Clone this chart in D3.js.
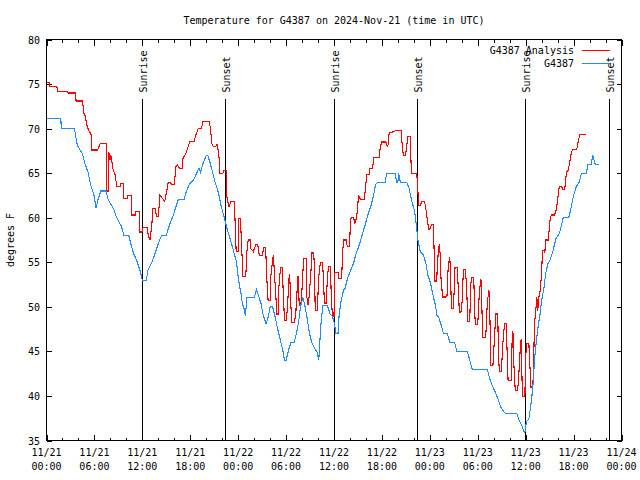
<!DOCTYPE html>
<html><head><meta charset="utf-8">
<script src="https://cdn.jsdelivr.net/npm/d3@7/dist/d3.min.js"></script>
<style>
html,body{margin:0;padding:0;background:#fff;}
svg{display:block;}
text{font-family:"DejaVu Sans Mono",monospace;font-size:10px;fill:#000;}
</style></head>
<body>
<script>
// ---------- data (hours after 2024-11-21 00:00 UTC, degrees F) ----------
const chartTitle = "Temperature for G4387 on 2024-Nov-21 (time in UTC)";
const yAxisLabel = "degrees F";
const seriesNames = ["G4387 Analysis", "G4387"];
const seriesColors = ["#ff0000", "#1e8cff"];
const yTickValues = [35, 40, 45, 50, 55, 60, 65, 70, 75, 80];

const sunEventLabels = ["Sunrise", "Sunset", "Sunrise", "Sunset", "Sunrise", "Sunset"];
const sunEventHours = [12.0, 22.38, 36.03, 46.42, 59.95, 70.47];

const analysisSeries = [
[0,75.2],[0.35,75.2],[0.4,74.7],[1.3,74.7],[1.4,74.2],[2.6,74.2],[2.7,74.0],[3.65,74.0],[3.7,73.1],[4.5,73.1],
[4.7,71.7],[4.85,71.4],[5.1,70.2],[5.3,69.8],[5.6,69.3],[5.7,67.6],[6.4,67.6],[6.7,68.3],[7.45,68.3],[7.5,68.3],
[7.55,63.0],[7.75,63.0],[7.8,67.4],[7.95,66.5],[8.05,67.0],[8.36,65.3],[8.6,64.8],[8.8,63.5],[9.2,63.5],[9.3,63.8],
[9.6,63.8],[9.7,62.2],[10.1,62.2],[10.2,62.5],[10.6,62.5],[10.7,60.3],[11.1,60.3],[11.15,60.7],[11.6,60.7],[11.7,58.4],
[11.95,58.4],[12.0,58.7],[12.1,58.9],[12.6,58.9],[12.75,58.0],[12.95,57.5],[13.2,59.3],[13.3,61.0],[13.6,61.0],[13.8,60.1],
[14.0,60.1],[14.2,62.5],[14.5,62.2],[14.8,61.8],[14.95,62.5],[15.25,64.0],[15.5,64.0],[15.7,63.7],[16.0,63.7],[16.2,65.7],
[16.4,65.9],[16.7,65.5],[17.0,65.5],[17.1,66.7],[17.5,67.3],[17.95,68.6],[18.5,68.6],[18.7,69.3],[19.0,70.0],[19.4,70.0],
[19.6,70.8],[20.4,70.8],[20.55,69.8],[20.7,68.3],[20.9,68.0],[21.2,68.0],[21.35,68.3],[21.5,67.5],[21.6,66.8],[21.7,65.0],
[22.1,65.0],[22.2,65.3],[22.5,65.3],[22.6,62.2],[22.85,61.2],[23.1,61.8],[23.5,61.8],[23.6,59.9],[23.75,56.2],[24.0,56.2],
[24.1,59.9],[24.25,59.9],[24.35,58.5],[24.6,53.4],[24.95,53.4],[25.1,56.3],[25.25,57.5],[25.5,57.5],[25.6,56.5],[25.9,56.2],
[26.1,56.7],[26.2,57.0],[26.45,57.0],[26.6,56.0],[26.7,55.8],[27.05,55.8],[27.2,56.7],[27.45,56.7],[27.55,53.7],[27.65,52.2],
[27.75,50.7],[28.0,50.7],[28.1,53.5],[28.3,55.2],[28.4,55.8],[28.55,53.7],[28.75,50.7],[28.8,49.2],[29.0,49.2],[29.1,52.2],
[29.3,54.4],[29.5,54.4],[29.6,52.6],[29.8,48.5],[30.05,48.5],[30.2,50.4],[30.4,53.7],[30.5,52.6],[30.6,50.2],[30.7,48.2],
[31.0,48.2],[31.2,49.0],[31.4,52.2],[31.5,53.4],[31.65,50.2],[31.85,50.2],[31.95,51.3],[32.2,55.4],[32.5,55.4],[32.6,51.1],
[32.75,50.2],[32.9,51.3],[33.15,54.5],[33.25,56.1],[33.45,56.1],[33.55,54.5],[33.65,49.6],[33.9,49.6],[34.1,53.4],[34.3,55.0],
[34.55,55.0],[34.65,53.7],[34.8,50.4],[35.0,50.4],[35.2,53.5],[35.3,54.5],[35.55,54.5],[35.65,51.5],[35.8,48.9],[36.0,48.9],
[36.1,53.9],[36.5,53.9],[36.6,53.2],[36.95,53.2],[37.1,56.3],[37.2,57.5],[37.55,57.5],[37.65,56.8],[37.95,56.8],[38.05,59.3],
[38.15,60.0],[38.45,60.0],[38.6,59.4],[38.75,59.8],[38.95,60.8],[39.05,62.5],[39.35,62.0],[39.8,62.0],[40.1,64.8],[40.4,64.8],
[40.5,65.5],[40.85,65.5],[40.95,66.8],[41.65,66.8],[41.8,68.0],[42.0,68.5],[42.5,68.5],[42.65,68.0],[42.8,68.2],[42.9,69.5],
[43.3,69.6],[43.8,69.8],[44.4,69.8],[44.6,67.5],[44.7,67.0],[44.95,67.0],[45.05,67.6],[45.25,69.1],[45.55,69.1],[45.65,66.1],
[45.75,65.0],[46.35,65.0],[46.45,64.0],[46.6,61.4],[46.85,61.4],[46.95,61.8],[47.35,61.8],[47.55,60.7],[47.7,59.6],[47.9,58.6],
[48.1,58.9],[48.2,59.2],[48.4,59.2],[48.5,57.5],[48.6,54.3],[48.65,52.8],[48.85,52.8],[48.95,54.7],[49.05,56.0],[49.2,57.1],
[49.3,55.8],[49.4,53.2],[49.6,51.1],[49.95,51.1],[50.15,51.3],[50.3,54.5],[50.5,55.6],[50.6,53.5],[50.7,49.8],[50.95,49.8],
[51.05,51.9],[51.15,54.4],[51.4,54.4],[51.5,53.2],[51.7,49.4],[51.9,49.4],[52.05,50.7],[52.2,54.2],[52.45,54.2],[52.6,52.3],
[52.7,49.8],[52.75,48.4],[53.0,48.4],[53.1,52.0],[53.2,53.3],[53.5,53.3],[53.6,49.8],[53.7,48.0],[54.0,48.0],[54.2,51.7],
[54.4,53.1],[54.5,50.8],[54.6,46.6],[55.0,46.6],[55.2,50.5],[55.4,51.9],[55.5,50.0],[55.6,45.1],[55.65,43.4],[55.9,43.4],
[56.1,46.6],[56.25,49.2],[56.5,49.2],[56.6,44.7],[56.7,42.7],[56.95,42.7],[57.15,46.0],[57.35,48.1],[57.55,48.1],[57.7,44.5],
[57.8,41.7],[58.2,41.7],[58.3,46.0],[58.4,47.3],[58.5,44.0],[58.7,40.6],[59.0,40.6],[59.2,43.2],[59.35,45.9],[59.45,46.4],
[59.55,41.7],[59.65,39.9],[59.9,39.9],[60.0,44.4],[60.15,45.9],[60.4,45.9],[60.5,44.0],[60.65,41.0],[60.9,41.0],[61.0,44.0],
[61.1,47.9],[61.3,50.0],[61.4,51.1],[61.5,49.5],[61.65,51.1],[61.8,51.7],[62.0,53.7],[62.1,56.3],[62.3,56.3],[62.4,56.0],
[62.5,57.5],[62.85,57.5],[63.0,59.5],[63.2,60.3],[63.6,60.3],[63.8,60.8],[63.95,61.6],[64.2,63.5],[64.5,63.5],[64.65,63.2],
[64.9,63.2],[65.1,65.1],[65.3,65.3],[65.5,66.1],[65.7,67.2],[65.9,67.7],[66.4,67.7],[66.6,68.7],[66.8,69.3],[67.5,69.3]
];

const stationSeries = [
[0,71.1],[1.8,71.1],[1.85,70.0],[3.5,70.0],[3.86,68.1],[4.5,67.2],[4.8,66.1],[5.2,65.1],[5.5,63.8],[5.95,62.5],
[6.2,61.1],[6.5,62.2],[6.8,63.0],[7.45,63.0],[7.7,62.1],[8.0,61.6],[8.4,61.0],[8.7,60.2],[9.1,59.5],[9.4,59.0],
[9.7,58.0],[10.3,58.0],[10.6,56.9],[10.9,56.0],[11.3,55.2],[11.7,54.1],[12.0,53.0],[12.5,53.0],[12.7,54.1],[13.2,55.0],
[13.6,56.0],[14.0,57.1],[14.4,58.0],[15.0,58.0],[15.4,59.2],[15.8,60.1],[16.2,61.2],[16.5,62.0],[17.2,62.0],[17.5,62.9],
[17.9,63.8],[18.4,64.2],[18.8,65.0],[19.1,65.6],[19.3,65.1],[19.6,66.1],[20.0,67.0],[20.2,67.0],[20.5,66.1],[20.8,65.1],
[21.1,64.0],[21.5,62.9],[21.9,61.2],[22.3,59.9],[22.6,58.8],[23.1,57.3],[23.5,56.0],[23.8,55.0],[24.05,53.0],[24.35,51.5],
[24.55,50.2],[24.7,50.0],[24.9,49.0],[25.1,51.0],[26.0,51.0],[26.3,51.9],[26.5,51.4],[26.85,50.4],[27.1,49.2],[27.5,48.1],
[27.8,49.0],[28.0,50.0],[28.3,50.0],[28.6,49.0],[28.9,47.7],[29.3,46.2],[29.6,45.1],[29.8,44.0],[30.0,44.0],[30.3,45.1],
[30.6,46.0],[31.0,46.0],[31.3,47.0],[31.6,48.5],[31.8,50.0],[32.1,51.0],[32.3,50.4],[32.6,48.9],[32.9,47.2],[33.2,46.0],
[33.6,45.3],[33.9,44.9],[34.1,44.0],[34.15,45.0],[34.4,48.5],[34.6,50.1],[35.2,50.1],[35.5,49.2],[35.8,48.9],[36.1,48.0],
[36.2,47.0],[36.5,47.0],[36.65,49.2],[36.9,50.7],[37.2,51.9],[37.4,52.1],[37.7,53.2],[38.0,53.9],[38.45,54.9],[38.7,55.8],
[39.15,56.9],[39.5,58.0],[39.9,59.2],[40.3,60.5],[40.65,61.4],[40.95,62.5],[41.2,63.7],[41.45,64.0],[42.4,64.0],[42.6,65.0],
[43.65,65.0],[43.85,64.0],[44.0,64.0],[44.1,65.0],[44.3,64.0],[45.1,64.0],[45.4,63.3],[45.7,62.0],[46.1,60.7],[46.3,59.3],
[46.5,57.5],[46.8,56.2],[47.2,55.8],[47.5,54.9],[47.75,53.6],[48.1,52.6],[48.4,51.3],[48.7,50.2],[48.9,49.0],[49.1,48.9],
[49.5,47.7],[49.7,47.0],[50.2,47.0],[50.5,46.0],[51.1,46.0],[51.4,45.0],[52.7,45.0],[53.0,44.0],[53.3,43.0],[55.2,43.0],
[55.5,41.9],[55.9,41.0],[56.3,40.2],[56.6,39.5],[56.9,38.7],[57.3,38.2],[57.5,38.0],[58.9,38.0],[59.2,37.2],[59.5,36.7],
[59.8,36.0],[59.9,35.9],[60.1,37.1],[60.4,37.4],[60.7,39.3],[60.9,41.0],[61.1,44.0],[61.35,46.2],[61.55,47.7],[61.8,49.2],
[62.0,50.7],[62.3,52.2],[62.5,53.7],[62.8,54.9],[63.0,55.1],[63.4,56.2],[63.8,57.7],[64.2,58.2],[64.5,59.2],[64.7,60.0],
[65.4,60.0],[65.7,61.2],[66.0,62.5],[66.35,63.5],[66.7,64.0],[67.0,65.0],[67.6,65.0],[67.8,66.0],[68.2,66.0],[68.4,67.0],
[68.7,66.0],[69.2,66.0]
];

// ---------- drawing ----------
const W = 640, H = 480;
const START = Date.UTC(2024, 10, 21, 0, 0);
const END = Date.UTC(2024, 10, 24, 0, 0);
const toDate = h => new Date(START + h * 3600000);

const svg = d3.select("body").append("svg").attr("width", W).attr("height", H);

const pLeft = 46.5, pRight = 621.5, pTop = 39.5, pBottom = 440.5;
const x = d3.scaleUtc().domain([new Date(START), new Date(END)]).range([pLeft, pRight]);
const y = d3.scaleLinear().domain([35, 80]).range([pBottom, pTop]);

// title & axis label
svg.append("text").attr("x", 334).attr("y", 24).attr("text-anchor", "middle").text(chartTitle);
svg.append("text").attr("transform", "translate(14,240) rotate(-90)").attr("text-anchor", "middle").text(yAxisLabel);

const tickStyle = g => g.selectAll("line").attr("stroke", "#000").attr("shape-rendering", "crispEdges");

// y ticks left and right
const yMajor = 5;
const yLeftG = svg.append("g").attr("transform", `translate(${pLeft},0)`)
  .call(d3.axisRight(y).tickValues(yTickValues).tickSize(yMajor).tickFormat(""));
yLeftG.select(".domain").remove(); tickStyle(yLeftG);
const yRightG = svg.append("g").attr("transform", `translate(${pRight},0)`)
  .call(d3.axisLeft(y).tickValues(yTickValues).tickSize(yMajor).tickFormat(""));
yRightG.select(".domain").remove(); tickStyle(yRightG);
svg.append("g").selectAll("text").data(yTickValues).join("text")
  .attr("x", 40).attr("y", d => y(d) + 4).attr("text-anchor", "end").text(d => d);

// x ticks: minor every 2h, major every 6h, bottom & top
const majorTicks = d3.utcHour.every(6).range(new Date(START), new Date(END + 1));
const minorTicks = d3.utcHour.every(2).range(new Date(START), new Date(END + 1));
[[pBottom, -1], [pTop, 1]].forEach(([yy, dir]) => {
  const gMin = svg.append("g").attr("transform", `translate(0,${yy})`)
    .call((dir < 0 ? d3.axisTop(x) : d3.axisBottom(x)).tickValues(minorTicks).tickSize(3).tickFormat(""));
  gMin.select(".domain").remove(); tickStyle(gMin);
  const gMaj = svg.append("g").attr("transform", `translate(0,${yy})`)
    .call((dir < 0 ? d3.axisTop(x) : d3.axisBottom(x)).tickValues(majorTicks).tickSize(6).tickFormat(""));
  gMaj.select(".domain").remove(); tickStyle(gMaj);
});
const fmtDay = d3.utcFormat("%m/%d"), fmtTime = d3.utcFormat("%H:%M");
const xl = svg.append("g").selectAll("text").data(majorTicks).join("text")
  .attr("text-anchor", "middle");
xl.append("tspan").attr("x", d => x(d)).attr("y", 456).text(d => fmtDay(d));
xl.append("tspan").attr("x", d => x(d)).attr("y", 470).text(d => fmtTime(d));

// sunrise / sunset markers
sunEventHours.forEach((h, i) => {
  const sx = Math.round(x(toDate(h))) + 0.5;
  svg.append("line").attr("x1", sx).attr("x2", sx).attr("y1", 99).attr("y2", pBottom)
    .attr("stroke", "#000").attr("stroke-width", 1).attr("shape-rendering", "crispEdges");
  svg.append("text").attr("transform", `translate(${sx + 4.5},92.5) rotate(-90)`)
    .attr("text-anchor", "start").text(sunEventLabels[i]);
});

// data lines
const line = d3.line().x(d => x(toDate(d[0]))).y(d => y(d[1]));
[analysisSeries, stationSeries].forEach((s, i) => {
  svg.append("path").datum(s).attr("d", line).attr("fill", "none")
    .attr("stroke", seriesColors[i]).attr("stroke-width", 1.1)
    .attr("shape-rendering", "crispEdges");
});

// legend
seriesNames.forEach((name, i) => {
  const ly = 50 + i * 13;
  svg.append("text").attr("x", 574).attr("y", ly + 4).attr("text-anchor", "end").text(name);
  svg.append("line").attr("x1", 582).attr("x2", 610).attr("y1", ly + 0.5).attr("y2", ly + 0.5)
    .attr("stroke", seriesColors[i]).attr("stroke-width", 1).attr("shape-rendering", "crispEdges");
});

// frame
svg.append("rect").attr("x", pLeft).attr("y", pTop).attr("width", pRight - pLeft).attr("height", pBottom - pTop)
  .attr("fill", "none").attr("stroke", "#000").attr("stroke-width", 1).attr("shape-rendering", "crispEdges");
</script>
</body></html>
